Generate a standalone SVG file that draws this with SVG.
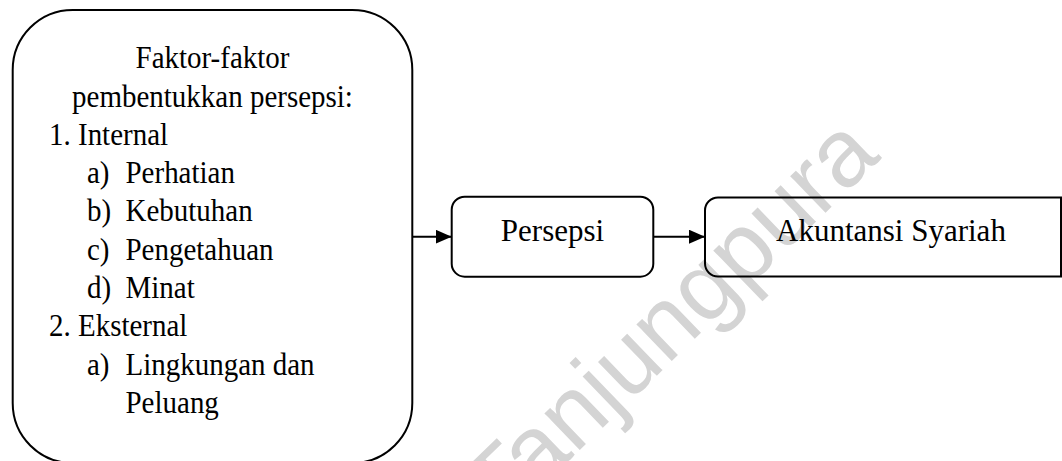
<svg xmlns="http://www.w3.org/2000/svg" width="1062" height="461" viewBox="0 0 1062 461">
  <style>
    .box { fill: none; stroke: #000; stroke-width: 2; }
    .t { font-family: 'Liberation Serif', 'Tinos', 'Times New Roman', 'DejaVu Serif', 'Noto Serif', 'FreeSerif', serif; font-size: 31px; fill: #000; }
    .wm { font-family: 'Liberation Sans', Arial, sans-serif; font-size: 96px; fill: #d4d4d4; }
    .conn { stroke: #000; stroke-width: 2; fill: none; }
  </style>
  <defs>
    <marker id="arrow" markerUnits="userSpaceOnUse" markerWidth="16" markerHeight="14" refX="16" refY="7" orient="auto">
      <path d="M0,0 L16,7 L0,14 Z" fill="#000"/>
    </marker>
  </defs>
  <rect width="1062" height="461" fill="#fff"/>
  <text class="wm" transform="translate(502,525) rotate(-44)">Tanjungpura</text>

  <g id="faktor">
    <rect class="box" x="12.7" y="10" width="399.6" height="453" rx="60" ry="60"/>
    <text class="t" text-anchor="middle" transform="translate(212.5,68.3) scale(0.935,1)">Faktor-faktor</text>
    <text class="t" text-anchor="middle" transform="translate(212.5,106.6) scale(0.935,1)">pembentukkan persepsi:</text>
    <text class="t" transform="translate(49,144.8) scale(0.935,1)">1. Internal</text>
    <text class="t" transform="translate(87,183.1) scale(0.935,1)">a)</text>
    <text class="t" transform="translate(125.5,183.1) scale(0.935,1)">Perhatian</text>
    <text class="t" transform="translate(87,221.4) scale(0.935,1)">b)</text>
    <text class="t" transform="translate(125.5,221.4) scale(0.935,1)">Kebutuhan</text>
    <text class="t" transform="translate(87,259.7) scale(0.935,1)">c)</text>
    <text class="t" transform="translate(125.5,259.7) scale(0.935,1)">Pengetahuan</text>
    <text class="t" transform="translate(87,297.9) scale(0.935,1)">d)</text>
    <text class="t" transform="translate(125.5,297.9) scale(0.935,1)">Minat</text>
    <text class="t" transform="translate(49,336.2) scale(0.935,1)">2. Eksternal</text>
    <text class="t" transform="translate(87,374.5) scale(0.935,1)">a)</text>
    <text class="t" transform="translate(125.5,374.5) scale(0.935,1)">Lingkungan dan</text>
    <text class="t" transform="translate(125.5,412.7) scale(0.935,1)">Peluang</text>
  </g>

  <g id="persepsi">
    <rect class="box" x="451.7" y="196.7" width="201.6" height="80" rx="13" ry="13"/>
    <text class="t" x="552.5" y="241" text-anchor="middle">Persepsi</text>
  </g>

  <g id="akuntansi">
    <path class="box" d="M718,197.5 H1061 V276.5 H718 A13,13 0 0 1 705,263.5 V210.5 A13,13 0 0 1 718,197.5 Z"/>
    <text class="t" x="776" y="240.5">Akuntansi Syariah</text>
  </g>

  <g id="connectors">
    <line class="conn" x1="412.3" y1="236.7" x2="451.7" y2="236.7" marker-end="url(#arrow)"/>
    <line class="conn" x1="653.3" y1="236.7" x2="705" y2="236.7" marker-end="url(#arrow)"/>
  </g>
</svg>
